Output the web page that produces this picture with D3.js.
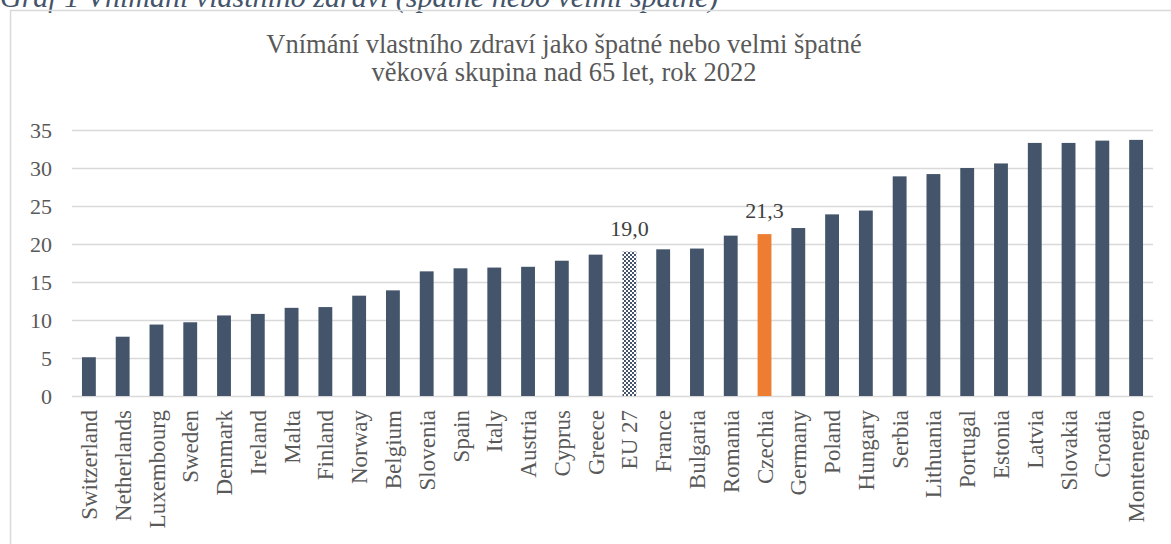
<!doctype html>
<html>
<head>
<meta charset="utf-8">
<title>Vnimani vlastniho zdravi</title>
<script src="https://d3js.org/d3.v7.min.js"></script>
<style>
  body { margin: 0; background: #fff; }
  svg text { font-family: "Liberation Serif", serif; }
</style>
</head>
<body>
<div id="chart"></div>
<script>
// data
var countries = ['Switzerland','Netherlands','Luxembourg','Sweden','Denmark','Ireland','Malta','Finland',
  'Norway','Belgium','Slovenia','Spain','Italy','Austria','Cyprus','Greece','EU 27','France','Bulgaria',
  'Romania','Czechia','Germany','Poland','Hungary','Serbia','Lithuania','Portugal','Estonia','Latvia',
  'Slovakia','Croatia','Montenegro'];
var values = [5.1, 7.8, 9.4, 9.7, 10.6, 10.8, 11.6, 11.7, 13.2, 13.9, 16.4, 16.8, 16.9, 17.0, 17.8, 18.6,
  19.0, 19.3, 19.4, 21.1, 21.3, 22.1, 23.9, 24.4, 28.9, 29.2, 30.0, 30.6, 33.3, 33.3, 33.6, 33.7];
var yTicks = [0, 5, 10, 15, 20, 25, 30, 35];
var labelled = ['EU 27', 'Czechia'];
var titleLines = [
  'Vn\u00edm\u00e1n\u00ed vlastn\u00edho zdrav\u00ed jako \u0161patn\u00e9 nebo velmi \u0161patn\u00e9',
  'v\u011bkov\u00e1 skupina nad 65 let, rok 2022'
];
var caption = 'Graf 1 Vn\u00edm\u00e1n\u00ed vlastn\u00edho zdrav\u00ed (\u0161patn\u00e9 nebo velmi \u0161patn\u00e9)';

var data = countries.map(function(c, i) { return {country: c, value: values[i]}; });

var width = 1171, height = 544;
var svg = d3.select('#chart').append('svg')
  .attr('width', width)
  .attr('height', height);

// checkerboard for EU 27
var defs = svg.append('defs');
var pat = defs.append('pattern')
  .attr('id', 'checker')
  .attr('width', 4).attr('height', 4)
  .attr('patternUnits', 'userSpaceOnUse');
pat.append('rect').attr('width', 4).attr('height', 4).attr('fill', '#ffffff');
pat.append('rect').attr('width', 2).attr('height', 2).attr('fill', '#44546a');
pat.append('rect').attr('x', 2).attr('y', 2).attr('width', 2).attr('height', 2).attr('fill', '#44546a');

// caption above the frame (the page top cuts it, as in the source)
svg.append('text')
  .attr('x', 0).attr('y', 7)
  .attr('font-size', 30)
  .attr('font-style', 'italic')
  .attr('fill', '#44546a')
  .text(caption);

// chart frame
svg.append('rect')
  .attr('x', 10.5).attr('y', 10.5)
  .attr('width', 1200).attr('height', 600)
  .attr('fill', 'none')
  .attr('stroke', '#d9d9d9')
  .attr('stroke-width', 1.5);

// title
svg.append('text')
  .attr('x', 564).attr('y', 53)
  .attr('text-anchor', 'middle')
  .attr('font-size', 26.5)
  .attr('fill', '#595959')
  .selectAll('tspan')
  .data(titleLines)
  .enter().append('tspan')
  .attr('x', 564)
  .attr('dy', function(d, i) { return i === 0 ? 0 : 28; })
  .text(function(d) { return d; });

// scales
var x = d3.scaleBand().domain(countries).range([72, 1153]).paddingInner(0.59).paddingOuter(0.295);
var y = d3.scaleLinear().domain([0, 35]).range([396, 130]);

// gridlines + y labels
var yAxis = svg.append('g')
  .attr('transform', 'translate(72,0)')
  .call(d3.axisLeft(y).tickValues(yTicks).tickSize(-1081).tickPadding(20).tickFormat(d3.format('d')));
yAxis.attr('font-family', null).attr('font-size', null);
yAxis.select('.domain').remove();
yAxis.selectAll('line').attr('stroke', '#d9d9d9').attr('stroke-width', 1.5);
yAxis.selectAll('text')
  .attr('fill', '#595959')
  .style('font-size', '22px');

// bars
svg.append('g').selectAll('rect')
  .data(data)
  .enter().append('rect')
  .attr('x', function(d) { return x(d.country); })
  .attr('y', function(d) { return y(d.value); })
  .attr('width', x.bandwidth())
  .attr('height', function(d) { return y(0) - y(d.value); })
  .attr('fill', function(d) {
    if (d.country === 'EU 27') return 'url(#checker)';
    if (d.country === 'Czechia') return '#ed7d31';
    return '#44546a';
  });

// value labels
svg.append('g').selectAll('text')
  .data(data.filter(function(d) { return labelled.indexOf(d.country) >= 0; }))
  .enter().append('text')
  .attr('x', function(d) { return x(d.country) + x.bandwidth() / 2; })
  .attr('y', function(d) { return y(d.value) - 16; })
  .attr('text-anchor', 'middle')
  .attr('font-size', 22)
  .attr('fill', '#404040')
  .text(function(d) { return d3.format('.1f')(d.value).replace('.', ','); });

// x labels
svg.append('g').selectAll('text')
  .data(countries)
  .enter().append('text')
  .attr('transform', function(d) { return 'translate(' + (x(d) + x.bandwidth() / 2) + ',410) rotate(-90)'; })
  .attr('text-anchor', 'end')
  .attr('dy', '0.35em')
  .attr('font-size', 23)
  .attr('fill', '#595959')
  .text(function(d) { return d; });
</script>
</body>
</html>
